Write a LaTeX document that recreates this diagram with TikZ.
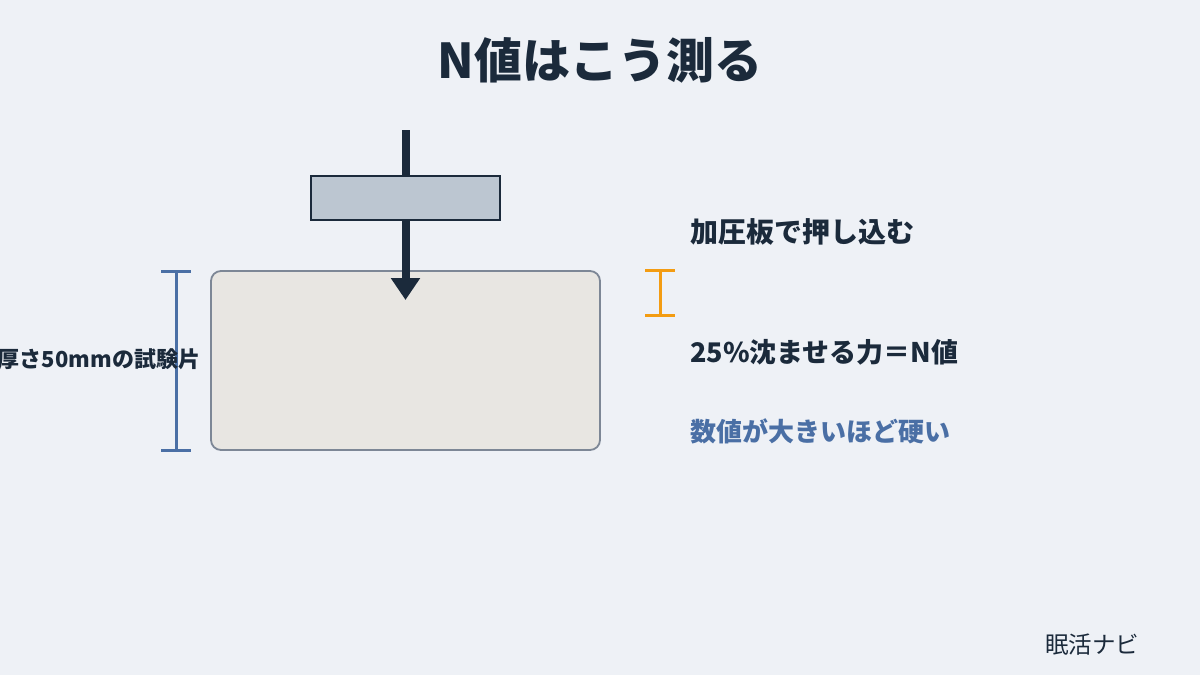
\documentclass[tikz,border=0pt]{standalone}
\usepackage{fontspec}
\setmainfont{Noto Sans CJK JP}
\usetikzlibrary{arrows.meta}
\definecolor{bg}{HTML}{EEF1F6}
\definecolor{ink}{HTML}{1B2A3B}
\definecolor{platefill}{HTML}{BCC6D1}
\definecolor{specfill}{HTML}{E8E6E2}
\definecolor{specline}{HTML}{7D8796}
\definecolor{accentblue}{HTML}{4A6FA5}
\definecolor{accentorange}{HTML}{F39C12}
\tikzset{
  txt/.style={inner sep=0pt, font=\bfseries\fontsize{27}{32}\selectfont, text=ink, anchor=west},
  bracket/.style={line width=3pt},
}
\begin{document}
\begin{tikzpicture}[x=1pt,y=-1pt]
\fill[bg] (0,0) rectangle (1200,675);
\useasboundingbox (0,0) rectangle (1200,675);
% title
\node[inner sep=0pt, font=\bfseries\fontsize{48}{56}\selectfont, text=ink] (title) at (600,60) {N値はこう測る};
% specimen
\node[draw=specline, line width=1.8pt, fill=specfill, rounded corners=10pt, minimum width=389pt, minimum height=179pt, inner sep=0pt] (spec) at (405.5,360.5) {};
% plate
\node[draw=ink, line width=2pt, fill=platefill, minimum width=189pt, minimum height=44pt, inner sep=0pt] (plate) at (405.5,198) {};
\coordinate (top) at (405.5,130);
\coordinate (tip) at (405.5,300);
\draw[ink, line width=8pt] (top) -- (plate.north);
\draw[ink, line width=8pt, -{Triangle[width=28pt,length=22pt]}] (plate.south) -- (tip);
% blue bracket
\coordinate (bt) at (176,271);
\coordinate (bb) at (176,450);
\draw[accentblue, bracket] (bt) -- (bb);
\draw[accentblue, bracket] ([xshift=-15pt]bt) -- ([xshift=15pt]bt);
\draw[accentblue, bracket] ([xshift=-15pt]bb) -- ([xshift=15pt]bb);
\node[inner sep=0pt, font=\bfseries\fontsize{22}{26}\selectfont, text=ink] (lbl) at (99,359) {厚さ50mmの試験片};
% orange bracket
\coordinate (ot) at (660,270);
\coordinate (ob) at (660,315);
\draw[accentorange, bracket] (ot) -- (ob);
\draw[accentorange, bracket] ([xshift=-15pt]ot) -- ([xshift=15pt]ot);
\draw[accentorange, bracket] ([xshift=-15pt]ob) -- ([xshift=15pt]ob);
% texts
\node[txt, font=\bfseries\fontsize{28}{32}\selectfont] (t1) at (690,232) {加圧板で押し込む};
\node[txt] (t2) at (690,352) {25\%沈ませる力＝N値};
\node[txt, font=\bfseries\fontsize{26}{32}\selectfont, text=accentblue] (t3) at (690,431) {数値が大きいほど硬い};
% footer
\node[inner sep=0pt, font=\fontsize{23.5}{28}\selectfont, text=ink] (foot) at (1092,645) {眠活ナビ};
\end{tikzpicture}
\end{document}
